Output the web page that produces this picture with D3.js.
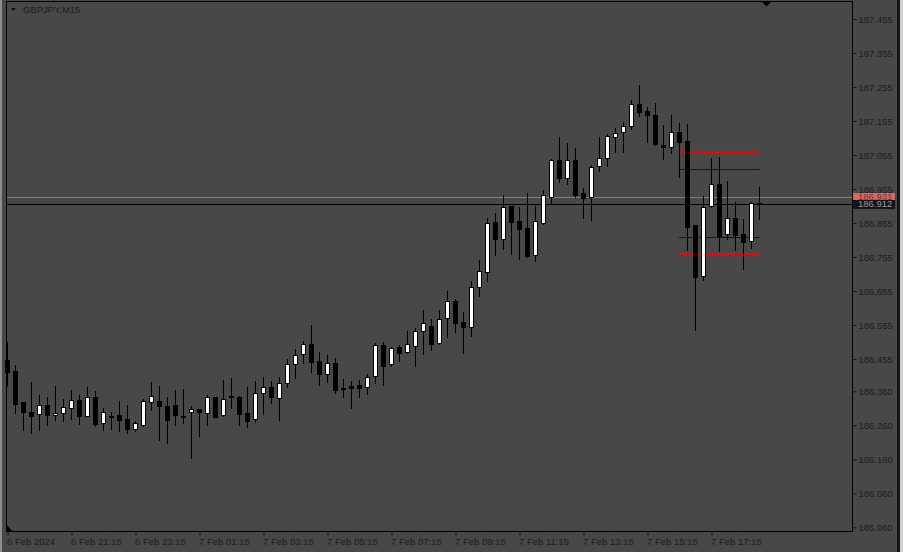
<!DOCTYPE html>
<html lang="en">
<head>
<meta charset="UTF-8">
<title>GBPJPY,M15</title>
<script src="https://d3js.org/d3.v7.min.js"></script>
<style>
    body { margin: 0; background: #484848; }
    svg text { font-family: "Liberation Sans", Arial, sans-serif; font-size: 9.5px; fill: #1c1c1c; }
</style>
</head>
<body>
<svg id="chart"></svg>
<script>
    // 15 minute bars, 6 Feb 19:15 .. 7 Feb 18:45
    const opens = [186.452, 186.420, 186.329, 186.299, 186.293, 186.320, 186.290, 186.295, 186.312, 186.335,
        186.287, 186.343, 186.266, 186.287, 186.291, 186.279, 186.250, 186.262, 186.328, 186.332,
        186.317, 186.320, 186.288, 186.298, 186.308, 186.295, 186.343, 186.290, 186.345, 186.343,
        186.296, 186.278, 186.354, 186.372, 186.340, 186.384, 186.440, 186.469, 186.499, 186.449,
        186.411, 186.443, 186.369, 186.375, 186.379, 186.372, 186.404, 186.496, 186.440, 186.489,
        186.477, 186.494, 186.538, 186.552, 186.502, 186.575, 186.626, 186.564, 186.548, 186.666,
        186.712, 186.857, 186.809, 186.905, 186.860, 186.840, 186.761, 186.856, 186.931, 187.040,
        186.986, 187.040, 186.943, 186.931, 187.022, 187.047, 187.107, 187.122, 187.139, 187.205,
        187.185, 187.173, 187.084, 187.078, 187.123, 187.096, 186.849, 186.700, 186.904, 186.970,
        186.822, 186.869, 186.822, 186.801, 186.915];
    const highs = [186.506, 186.438, 186.329, 186.388, 186.349, 186.343, 186.376, 186.337, 186.364, 186.349,
        186.374, 186.361, 186.310, 186.300, 186.330, 186.320, 186.274, 186.337, 186.388, 186.376,
        186.344, 186.364, 186.367, 186.318, 186.309, 186.349, 186.344, 186.394, 186.399, 186.345,
        186.372, 186.391, 186.402, 186.391, 186.402, 186.454, 186.484, 186.508, 186.555, 186.475,
        186.467, 186.457, 186.396, 186.391, 186.394, 186.411, 186.501, 186.505, 186.489, 186.496,
        186.538, 186.546, 186.599, 186.573, 186.599, 186.655, 186.632, 186.593, 186.685, 186.745,
        186.869, 186.884, 186.937, 186.906, 186.902, 186.942, 186.905, 186.952, 187.043, 187.108,
        187.091, 187.076, 186.958, 187.026, 187.108, 187.117, 187.135, 187.152, 187.216, 187.261,
        187.195, 187.208, 187.143, 187.173, 187.149, 187.146, 186.849, 186.935, 187.047, 187.048,
        186.979, 186.916, 186.868, 186.918, 186.961];
    const lows = [186.376, 186.297, 186.246, 186.236, 186.247, 186.261, 186.276, 186.274, 186.280, 186.264,
        186.286, 186.258, 186.247, 186.249, 186.244, 186.238, 186.244, 186.259, 186.305, 186.217,
        186.208, 186.261, 186.268, 186.163, 186.229, 186.261, 186.283, 186.288, 186.310, 186.261,
        186.256, 186.270, 186.294, 186.327, 186.277, 186.374, 186.399, 186.443, 186.418, 186.380,
        186.388, 186.356, 186.344, 186.312, 186.344, 186.352, 186.383, 186.380, 186.433, 186.449,
        186.472, 186.435, 186.469, 186.482, 186.500, 186.521, 186.533, 186.472, 186.524, 186.641,
        186.685, 186.761, 186.780, 186.765, 186.750, 186.756, 186.744, 186.851, 186.915, 186.977,
        186.971, 186.932, 186.871, 186.865, 187.009, 187.024, 187.065, 187.065, 187.132, 187.171,
        187.094, 187.085, 187.044, 187.062, 186.991, 186.776, 186.540, 186.688, 186.903, 186.774,
        186.808, 186.776, 186.721, 186.782, 186.868];
    const closes = [186.418, 186.324, 186.300, 186.286, 186.319, 186.291, 186.295, 186.313, 186.334, 186.286,
        186.343, 186.265, 186.298, 186.285, 186.276, 186.250, 186.267, 186.332, 186.346, 186.318,
        186.277, 186.289, 186.283, 186.308, 186.300, 186.342, 186.285, 186.337, 186.343, 186.294,
        186.274, 186.354, 186.372, 186.344, 186.384, 186.440, 186.466, 186.498, 186.447, 186.412,
        186.443, 186.364, 186.367, 186.371, 186.371, 186.401, 186.496, 186.435, 186.487, 186.474,
        186.499, 186.538, 186.561, 186.499, 186.573, 186.626, 186.562, 186.548, 186.666, 186.713,
        186.854, 186.809, 186.902, 186.859, 186.838, 186.757, 186.860, 186.937, 187.040, 186.986,
        187.040, 186.937, 186.930, 187.019, 187.047, 187.111, 187.119, 187.139, 187.204, 187.182,
        187.174, 187.086, 187.079, 187.122, 187.094, 186.844, 186.697, 186.901, 186.969, 186.818,
        186.869, 186.821, 186.798, 186.913, 186.912];

    const priceTicks = [187.455, 187.355, 187.255, 187.155, 187.055, 186.955, 186.855, 186.755,
        186.655, 186.555, 186.455, 186.360, 186.260, 186.160, 186.060, 185.960];
    const timeTickBars = [0, 8, 16, 24, 32, 40, 48, 56, 64, 72, 80, 88];
    const timeTickLabels = ["6 Feb 2024", "6 Feb 21:15", "6 Feb 23:15", "7 Feb 01:15", "7 Feb 03:15",
        "7 Feb 05:15", "7 Feb 07:15", "7 Feb 09:15", "7 Feb 11:15", "7 Feb 13:15", "7 Feb 15:15", "7 Feb 17:15"];

    const askPrice = 186.931, bidPrice = 186.912;
    const redLevels = [187.063, 186.763];
    const blueLevels = [187.013, 186.813];
    const levelFrom = 84, levelTo = 94;

    const width = 903, height = 552;
    const plot = { left: 6.5, right: 852.5, top: 1.5, bottom: 531.5 };

    const x = d3.scaleLinear().domain([0, 94]).range([7.5, 759.5]);
    const y = d3.scaleLinear().domain([185.960, 187.455]).range([527.3, 19]);

    const svg = d3.select("#chart").attr("width", width).attr("height", height);

    svg.append("rect").attr("width", width).attr("height", height).attr("fill", "#484848");
    // window edges
    svg.append("rect").attr("x", 0).attr("y", 0).attr("width", 2).attr("height", height).attr("fill", "#8e8e8e");
    svg.append("rect").attr("x", 897).attr("y", 0).attr("width", 3).attr("height", height).attr("fill", "#161616");
    svg.append("rect").attr("x", 900).attr("y", 0).attr("width", 3).attr("height", height).attr("fill", "#cfcfcf");

    // axes
    const yAxis = d3.axisRight(y).tickValues(priceTicks).tickSize(4).tickPadding(2)
        .tickFormat(d => d3.format(".3f")(d));
    svg.append("g").attr("transform", `translate(${plot.right},0)`).call(yAxis)
        .call(g => g.select(".domain").remove())
        .call(g => g.selectAll(".tick line").attr("stroke", "#111"))
        .call(g => g.selectAll(".tick text").attr("fill", "#1c1c1c"));

    const xAxis = d3.axisBottom(x).tickValues(timeTickBars).tickSize(4).tickPadding(3)
        .tickFormat((d, i) => timeTickLabels[i]);
    svg.append("g").attr("transform", `translate(0,${plot.bottom})`).call(xAxis)
        .call(g => g.select(".domain").remove())
        .call(g => g.selectAll(".tick line").attr("stroke", "#111"))
        .call(g => g.selectAll(".tick text").attr("text-anchor", "start").attr("x", -1).attr("fill", "#1c1c1c"));

    // ask / bid lines
    svg.append("line").attr("x1", plot.left).attr("x2", plot.right)
        .attr("y1", Math.round(y(askPrice)) + 0.5).attr("y2", Math.round(y(askPrice)) + 0.5)
        .attr("stroke", "#e85454");
    svg.append("line").attr("x1", plot.left).attr("x2", plot.right)
        .attr("y1", Math.round(y(bidPrice)) + 0.5).attr("y2", Math.round(y(bidPrice)) + 0.5)
        .attr("stroke", "#000");

    // level segments
    svg.selectAll(".blue").data(blueLevels).join("line")
        .attr("x1", x(levelFrom) - 0.5).attr("x2", x(levelTo))
        .attr("y1", d => Math.round(y(d)) + 0.5).attr("y2", d => Math.round(y(d)) + 0.5)
        .attr("stroke", "#0000c8");
    svg.selectAll(".red").data(redLevels).join("line")
        .attr("x1", x(levelFrom) - 0.5).attr("x2", x(levelTo))
        .attr("y1", d => Math.round(y(d))).attr("y2", d => Math.round(y(d)))
        .attr("stroke", "#ff0000").attr("stroke-width", 2);

    // candles
    const bars = opens.map((o, i) => ({ i, o, h: highs[i], l: lows[i], c: closes[i] }));
    const g = svg.append("g");
    g.selectAll(".wick").data(bars).join("line")
        .attr("x1", d => x(d.i)).attr("x2", d => x(d.i))
        .attr("y1", d => Math.round(y(d.h))).attr("y2", d => Math.round(y(d.l)) + 1)
        .attr("stroke", "#000");
    g.selectAll(".body").data(bars).join("rect")
        .attr("x", d => x(d.i) - 2.5)
        .attr("y", d => Math.round(y(Math.max(d.o, d.c))))
        .attr("width", 5)
        .attr("height", d => Math.max(1, Math.round(y(Math.min(d.o, d.c))) - Math.round(y(Math.max(d.o, d.c))) + 1))
        .attr("fill", "#000");
    g.selectAll(".inner").data(bars.filter(d => d.c > d.o)).join("rect")
        .attr("x", d => x(d.i) - 1.5)
        .attr("y", d => Math.round(y(d.c)) + 1)
        .attr("width", 3)
        .attr("height", d => Math.max(0, Math.round(y(d.o)) - Math.round(y(d.c)) - 1))
        .attr("fill", "#fff");

    // frame
    svg.append("rect").attr("x", plot.left).attr("y", plot.top)
        .attr("width", plot.right - plot.left).attr("height", plot.bottom - plot.top)
        .attr("fill", "none").attr("stroke", "#000");

    // price labels on the axis
    const tags = [
        { p: askPrice, fill: "#df6464", color: "#6a3434" },
        { p: bidPrice, fill: "#141414", color: "#9a9a9a" }
    ];
    tags.forEach(t => {
        const cy = y(t.p);
        svg.append("rect").attr("x", 853).attr("y", Math.round(cy) - 4).attr("width", 42).attr("height", 9)
            .attr("fill", t.fill);
        svg.append("text").attr("x", 858).attr("y", cy).attr("dy", "0.34em")
            .style("fill", t.color).text(d3.format(".3f")(t.p));
    });

    // title and markers
    svg.append("path").attr("d", "M11,8 L16,8 L13.5,11 Z").attr("fill", "#111");
    svg.append("text").attr("x", 23).attr("y", 9.5).attr("dy", "0.34em").text("GBPJPY,M15");
    svg.append("path").attr("d", "M762,2 L771,2 L766.5,6.5 Z").attr("fill", "#000");
    svg.append("path").attr("d", "M7,525 L7,531 L12,531 Z").attr("fill", "#000");
</script>
</body>
</html>
